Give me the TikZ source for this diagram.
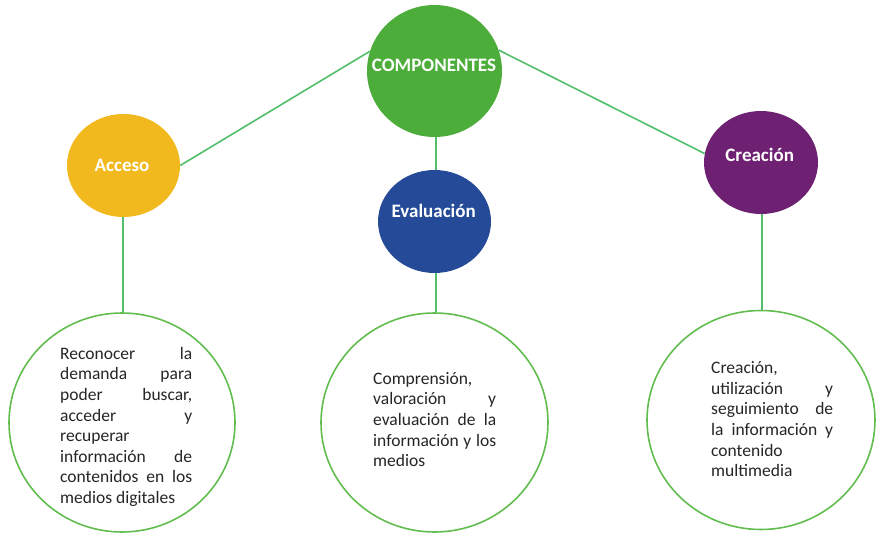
\documentclass[tikz,border=0pt]{standalone}
\usepackage{fontspec}
\setmainfont{Carlito}
\usetikzlibrary{shapes.geometric}

\definecolor{compgreen}{HTML}{4DAD3A}
\definecolor{accyellow}{HTML}{F2B91E}
\definecolor{evablue}{HTML}{254A98}
\definecolor{crepurple}{HTML}{6E2172}
\definecolor{linkgreen}{HTML}{52BE6C}
\definecolor{ringgreen}{HTML}{62BD4F}
\definecolor{bodytext}{HTML}{262626}

% a line whose word spaces stretch to the given width
\newcommand{\jline}[2]{\makebox[#1][s]{#2}}

\tikzset{
  bubble/.style={ellipse, inner sep=0pt, draw=none},
  title/.style={text=white, font=\fontsize{19}{22}\selectfont\bfseries, inner sep=0pt, anchor=base},
  ring/.style={ellipse, inner sep=0pt, draw=ringgreen, line width=1.6pt, fill=white},
  link/.style={draw=linkgreen, line width=1.6pt},
  body/.style={text=bodytext, font=\fontsize{17.5}{20.6}\selectfont, align=left, inner sep=0pt, anchor=base west}
}

\begin{document}
\begin{tikzpicture}[x=1pt,y=-1pt]
\useasboundingbox (0,0) rectangle (876,535);

% top-level and category bubbles
\node[bubble, fill=compgreen, minimum width=135pt, minimum height=132pt] (comp) at (434.5,71) {};
\node[bubble, fill=accyellow, minimum width=113pt, minimum height=103pt] (acc) at (123.5,165.5) {};
\node[bubble, fill=evablue, minimum width=113pt, minimum height=103pt] (eva) at (434.5,221.5) {};
\node[bubble, fill=crepurple, minimum width=114pt, minimum height=103pt] (cre) at (761,162.5) {};

% description rings
\node[ring, minimum width=226pt, minimum height=219pt] (accbox) at (122,422.5) {};
\node[ring, minimum width=227pt, minimum height=219pt] (evabox) at (434.5,422.5) {};
\node[ring, minimum width=228pt, minimum height=219pt] (crebox) at (761,420) {};

% connectors
\draw[link] (comp.163.5) -- (acc.east);
\draw[link] (comp.18) -- (cre.171);
\draw[link] (comp.south -| 436,0) -- (eva.north -| 436,0);
\draw[link] (acc.south -| 123,0) -- (accbox.north -| 123,0);
\draw[link] (eva.south -| 436,0) -- (evabox.north -| 436,0);
\draw[link] (cre.south -| 762,0) -- (crebox.north -| 762,0);

% titles
\node[title] (comptxt) at (434,71.5) {COMPONENTES};
\node[title] (acctxt) at (122,171) {Acceso};
\node[title] (evatxt) at (433.7,217.3) {Evaluación};
\node[title] (cretxt) at (759.7,161) {Creación};

% descriptions (placed by the baseline of their last line)
\node[body] (acctext) at (60,503.5) {%
\jline{132pt}{Reconocer la}\\
\jline{132pt}{demanda para}\\
\jline{132pt}{poder buscar,}\\
\jline{132pt}{acceder y}\\
recuperar\\
\jline{132pt}{información de}\\
\jline{132pt}{contenidos en los}\\
medios digitales};

\node[body] (evatext) at (373,466.7) {%
Comprensión,\\
\jline{123pt}{valoración y}\\
\jline{123pt}{evaluación de la}\\
\jline{123pt}{información y los}\\
medios};

\node[body] (cretext) at (711,476.7) {%
Creación,\\
\jline{122pt}{utilización y}\\
\jline{122pt}{seguimiento de}\\
\jline{122pt}{la información y}\\
contenido\\
multimedia};
\end{tikzpicture}
\end{document}
